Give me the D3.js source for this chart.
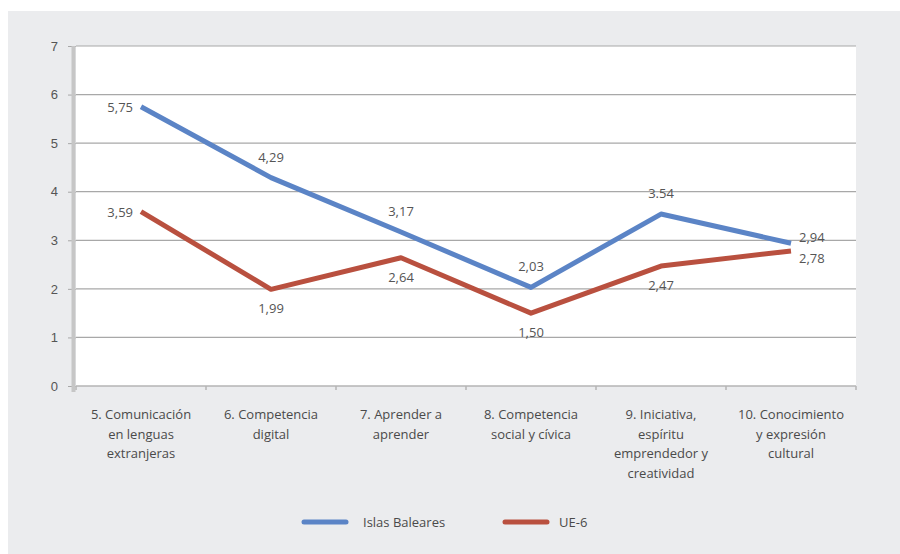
<!DOCTYPE html>
<html>
<head>
<meta charset="utf-8">
<script src="https://cdn.jsdelivr.net/npm/d3@7"></script>
<style>
  body { margin: 0; background: #fff; }
  svg { display: block; font-family: "Open Sans", "Liberation Sans", sans-serif; }
</style>
</head>
<body>
<div id="chart"></div>
<script>
const width = 900;
const height = 554;

// categories, one label line per array entry
const categories = [
  ["5. Comunicación", "en lenguas", "extranjeras"],
  ["6. Competencia", "digital"],
  ["7. Aprender a", "aprender"],
  ["8. Competencia", "social y cívica"],
  ["9. Iniciativa,", "espíritu", "emprendedor y", "creatividad"],
  ["10. Conocimiento", "y expresión", "cultural"]
];
const baleares = [5.75, 4.29, 3.17, 2.03, 3.54, 2.94];
const ue6 = [3.59, 1.99, 2.64, 1.50, 2.47, 2.78];
const balearesLabels = ["5,75", "4,29", "3,17", "2,03", "3.54", "2,94"];
const ue6Labels = ["3,59", "1,99", "2,64", "1,50", "2,47", "2,78"];
const yTicks = [0, 1, 2, 3, 4, 5, 6, 7];

// where each value label sits relative to its point
const balearesPos = ["left", "above", "above", "above", "above", "rightUp"];
const ue6Pos = ["left", "below", "below", "below", "below", "rightDown"];

const blue = "#5b84c6";
const red = "#b9503f";

const margin = { top: 46, right: 44, bottom: 168, left: 76 };

const svg = d3.select("#chart").append("svg")
  .attr("width", width)
  .attr("height", height);

// grey panel
svg.append("rect")
  .attr("x", 8).attr("y", 11)
  .attr("width", width - 8).attr("height", height - 11)
  .attr("fill", "#ebecee");

const x = d3.scaleBand()
  .domain(d3.range(categories.length))
  .range([margin.left, width - margin.right]);

const y = d3.scaleLinear()
  .domain([0, 7])
  .range([height - margin.bottom, margin.top]);

// plot area
svg.append("rect")
  .attr("x", margin.left).attr("y", margin.top)
  .attr("width", width - margin.right - margin.left)
  .attr("height", y(0) - margin.top)
  .attr("fill", "#fff");

// y axis ticks and labels
const yAxis = svg.append("g")
  .attr("transform", `translate(${margin.left},0)`)
  .call(d3.axisLeft(y).tickValues(yTicks).tickSize(8).tickPadding(10).tickFormat(d3.format("d")));
yAxis.select(".domain").remove();
yAxis.selectAll(".tick line").attr("stroke", "#a8a8a8");
yAxis.selectAll(".tick text").attr("fill", "#555").attr("font-size", 13);

// gridlines
svg.append("g")
  .selectAll("line")
  .data(yTicks)
  .join("line")
  .attr("x1", margin.left).attr("x2", width - margin.right)
  .attr("y1", d => y(d)).attr("y2", d => y(d))
  .attr("stroke", d => d === 0 ? "#b4b4b4" : "#a8a8a8")
  .attr("stroke-width", d => d === 0 ? 1.5 : 1.2);

// x axis ticks at band edges
const edges = categories.map((c, i) => x(i)).concat([x(categories.length - 1) + x.bandwidth()]);
svg.append("g")
  .selectAll("line")
  .data(edges)
  .join("line")
  .attr("x1", d => d).attr("x2", d => d)
  .attr("y1", y(0)).attr("y2", y(0) + 4)
  .attr("stroke", "#b4b4b4")
  .attr("stroke-width", 1.5);

// thick left axis line
svg.append("line")
  .attr("x1", margin.left - 2.5).attr("x2", margin.left - 2.5)
  .attr("y1", margin.top).attr("y2", y(0) + 6)
  .attr("stroke", "#c6c6c6")
  .attr("stroke-width", 4);

// category labels
const catG = svg.append("g")
  .selectAll("text")
  .data(categories)
  .join("text")
  .attr("text-anchor", "middle")
  .attr("fill", "#4a4a4a")
  .attr("font-size", 13);
catG.selectAll("tspan")
  .data((d, i) => d.map(t => ({ t, i })))
  .join("tspan")
  .attr("x", d => x(d.i) + x.bandwidth() / 2)
  .attr("y", (d, j) => 419 + j * 19.5)
  .text(d => d.t);

const line = d3.line()
  .x((d, i) => x(i) + x.bandwidth() / 2)
  .y(d => y(d));

function drawSeries(values, labels, pos, color) {
  svg.append("path")
    .datum(values)
    .attr("fill", "none")
    .attr("stroke", color)
    .attr("stroke-width", 5)
    .attr("stroke-linejoin", "round")
    .attr("d", line);

  svg.append("g")
    .selectAll("text")
    .data(values)
    .join("text")
    .attr("font-size", 13)
    .attr("fill", "#555")
    .attr("text-anchor", (d, i) => pos[i] === "left" ? "end" : pos[i].startsWith("right") ? "start" : "middle")
    .attr("x", (d, i) => {
      const cx = x(i) + x.bandwidth() / 2;
      return pos[i] === "left" ? cx - 8 : pos[i].startsWith("right") ? cx + 8 : cx;
    })
    .attr("y", (d, i) => {
      const cy = y(d);
      if (pos[i] === "above") return cy - 16;
      if (pos[i] === "below") return cy + 24;
      if (pos[i] === "rightUp") return cy - 1;
      if (pos[i] === "rightDown") return cy + 12;
      return cy + 5;
    })
    .text((d, i) => labels[i]);
}

drawSeries(baleares, balearesLabels, balearesPos, blue);
drawSeries(ue6, ue6Labels, ue6Pos, red);

// legend
const legend = [
  { name: "Islas Baleares", color: blue, x: 302 },
  { name: "UE-6", color: red, x: 503 }
];
const lg = svg.append("g")
  .selectAll("g")
  .data(legend)
  .join("g")
  .attr("transform", d => `translate(${d.x},522)`);
lg.append("line")
  .attr("x1", 2).attr("x2", 44)
  .attr("stroke", d => d.color)
  .attr("stroke-width", 5)
  .attr("stroke-linecap", "round");
lg.append("text")
  .attr("x", d => d.name === "UE-6" ? 56 : 61)
  .attr("y", 5)
  .attr("font-size", 13)
  .attr("fill", "#4a4a4a")
  .text(d => d.name);
</script>
</body>
</html>
